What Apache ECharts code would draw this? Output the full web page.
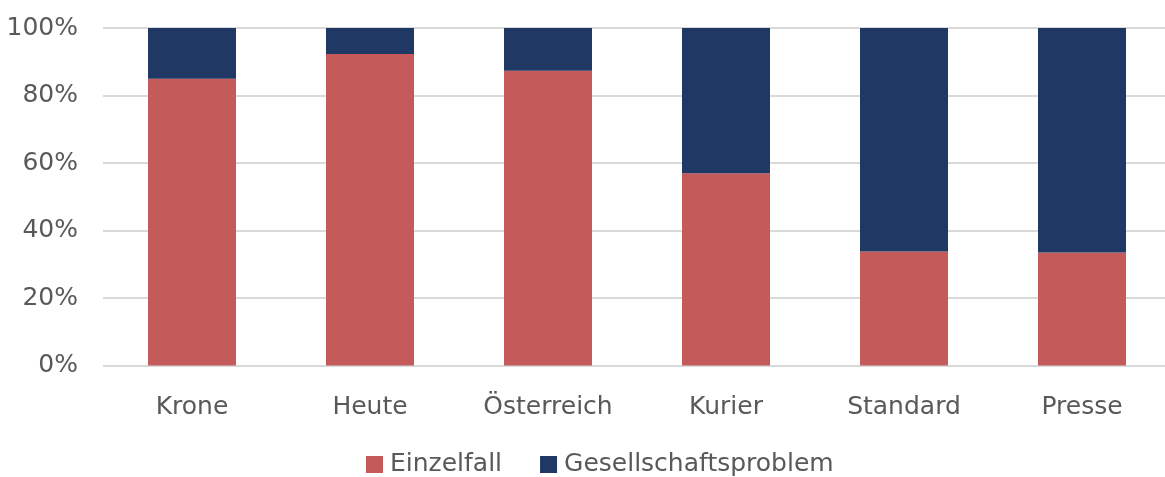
<!DOCTYPE html>
<html>
<head>
<meta charset="utf-8">
<script src="https://cdn.jsdelivr.net/npm/echarts@6/dist/echarts.min.js"></script>
<style>
html,body{margin:0;padding:0;background:#fff;overflow:hidden;}
#chart{width:1171px;height:477px;}
</style>
</head>
<body>
<div id="chart"></div>
<script>
const categories = ["Krone", "Heute", "Österreich", "Kurier", "Standard", "Presse"];
const einzelfall = [85.0, 92.3, 87.3, 57.0, 33.8, 33.5];
const gesellschaftsproblem = [15.0, 7.7, 12.7, 43.0, 66.2, 66.5];
const yTicks = [0, 20, 40, 60, 80, 100];

const FONT = "'DejaVu Sans', sans-serif";
const chart = echarts.init(document.getElementById('chart'));
chart.setOption({
  animation: false,
  textStyle: { fontFamily: FONT },
  grid: { left: 103, top: 28, right: 0, height: 337.5, containLabel: false },
  legend: {
    bottom: -5,
    left: 361,
    itemWidth: 17,
    itemHeight: 17,
    itemGap: 38,
    icon: 'rect',
    textStyle: { fontFamily: FONT, fontSize: 25, color: '#595959', padding: [0, 0, 0, 2] },
    data: ['Einzelfall', 'Gesellschaftsproblem']
  },
  xAxis: {
    type: 'category',
    data: categories,
    axisLine: { show: false },
    axisTick: { show: false },
    axisLabel: { fontFamily: FONT, fontSize: 25, color: '#595959', margin: 29 }
  },
  yAxis: {
    type: 'value',
    min: yTicks[0],
    max: yTicks[yTicks.length - 1],
    interval: 20,
    axisLine: { show: false },
    axisTick: { show: false },
    splitLine: { lineStyle: { color: '#d9d9d9', width: 2 } },
    axisLabel: { fontFamily: FONT, fontSize: 25, color: '#595959', margin: 25, formatter: v => v + '%' }
  },
  series: [
    { name: 'Einzelfall', type: 'bar', stack: 't', data: einzelfall, barWidth: 88, itemStyle: { color: '#c55a5a' } },
    { name: 'Gesellschaftsproblem', type: 'bar', stack: 't', data: gesellschaftsproblem, barWidth: 88, itemStyle: { color: '#203864' } }
  ]
});
</script>
</body>
</html>
